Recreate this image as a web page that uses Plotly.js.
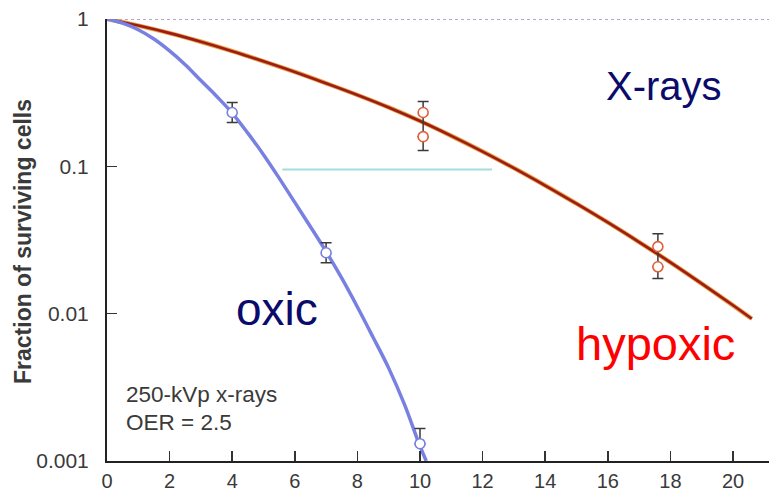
<!DOCTYPE html>
<html><head><meta charset="utf-8">
<script src="https://cdn.plot.ly/plotly-3.0.1.min.js"></script>
<style>html,body{margin:0;padding:0;background:#fff}</style>
</head><body><div id="chart" style="width:769px;height:494px"></div>
<script>
// Oxic survival curve
const oxicCurveX = [0, 0.5, 1, 1.5, 2, 2.5, 3, 3.5, 4, 4.5, 5, 5.5, 6, 6.5, 7, 7.5, 8, 8.5, 9, 9.5, 10, 10.2];
const oxicCurveY = [1, 0.937, 0.845, 0.731, 0.607, 0.489, 0.382, 0.299, 0.230, 0.168, 0.120, 0.0832, 0.0569, 0.0389, 0.0264, 0.0174, 0.0111, 0.00692, 0.00427, 0.00243, 0.00126, 0.00100];
// Hypoxic survival curve
const hypoxicCurveX = [0, 1, 2, 3, 4, 5, 6, 7, 8, 9, 10, 11, 12, 13, 14, 15, 16, 17, 18, 19, 20, 20.6];
const hypoxicCurveY = [1, 0.902, 0.802, 0.701, 0.605, 0.516, 0.437, 0.366, 0.305, 0.251, 0.203, 0.161, 0.126, 0.0973, 0.0741, 0.0558, 0.0416, 0.0306, 0.0223, 0.0160, 0.0114, 0.00923];
// Oxic data points with error bars
const oxicX = [4, 7, 10];
const oxicY = [0.232, 0.0259, 0.00131];
const oxicErrPlus = [0.039, 0.0044, 0.00035];
const oxicErrMinus = [0.034, 0.0037, 0];
// Hypoxic data points with error bars
const hypoxicX = [10.1, 10.1, 17.6, 17.6];
const hypoxicY = [0.232, 0.159, 0.0285, 0.0208];
const hypoxicErrPlus = [0.043, 0, 0.0064, 0];
const hypoxicErrMinus = [0.104, 0, 0.0112, 0];
// OER reference line
const oerLineX = [5.6, 12.3];
const oerLineY = [0.095, 0.095];
// Top reference line at survival = 1
const topLineX = [0, 21.15];
const topLineY = [1, 1];
// Ticks
const xTickVals = [0, 2, 4, 6, 8, 10, 12, 14, 16, 18, 20];
const xTickText = ['0', '2', '4', '6', '8', '10', '12', '14', '16', '18', '20'];
const yTickVals = [0.001, 0.01, 0.1, 1];
const yTickText = ['0.001', '0.01', '0.1', '1'];

const FONT = 'Liberation Sans, Arial, Helvetica, sans-serif';
const L = 107, W = 662, B = 461, H = 442;
const px = x => (x - L) / W;
const py = y => (B - y) / H;

const traces = [
  {x: topLineX, y: topLineY, mode: 'lines', line: {color: '#b3a6c6', width: 2, dash: 'dot'}, cliponaxis: false, hoverinfo: 'skip'},
  {x: oerLineX, y: oerLineY, mode: 'lines', line: {color: '#a6dcdf', width: 2}, hoverinfo: 'skip'},
  {x: hypoxicCurveX, y: hypoxicCurveY, mode: 'lines', line: {color: '#e4a040', width: 4.5, shape: 'spline'}, cliponaxis: false, hoverinfo: 'skip'},
  {x: hypoxicCurveX, y: hypoxicCurveY, mode: 'lines', line: {color: '#9e1c18', width: 2.6, shape: 'spline'}, cliponaxis: false},
  {x: oxicCurveX, y: oxicCurveY, mode: 'lines', line: {color: '#7880e2', width: 3.5, shape: 'spline'}, cliponaxis: false},
  {x: oxicX, y: oxicY, mode: 'markers', cliponaxis: false,
   marker: {symbol: 'circle', size: 10, color: '#ffffff', line: {color: '#7880e2', width: 1.6}},
   error_y: {type: 'data', symmetric: false, array: oxicErrPlus, arrayminus: oxicErrMinus, color: '#3a3a3a', thickness: 1.5, width: 5.5}},
  {x: hypoxicX, y: hypoxicY, mode: 'markers', cliponaxis: false,
   marker: {symbol: 'circle', size: 10, color: '#ffffff', line: {color: '#e0603a', width: 1.6}},
   error_y: {type: 'data', symmetric: false, array: hypoxicErrPlus, arrayminus: hypoxicErrMinus, color: '#3a3a3a', thickness: 1.5, width: 5.5}}
];

const layout = {
  width: 769, height: 494,
  margin: {l: L, r: 0, t: 19, b: 33, pad: 0},
  paper_bgcolor: '#ffffff', plot_bgcolor: '#ffffff',
  showlegend: false,
  font: {family: FONT, color: '#3a3a3a'},
  xaxis: {range: [0, 21.15], tickmode: 'array', tickvals: xTickVals, ticktext: xTickText,
    ticks: 'inside', ticklen: 10, tickwidth: 1.5, tickcolor: '#333',
    showline: true, linecolor: '#222', linewidth: 2, showgrid: false, zeroline: false,
    tickfont: {family: FONT, size: 20, color: '#3a3a3a'}, ticklabelstandoff: 1, fixedrange: true},
  yaxis: {type: 'log', range: [-3, 0], tickmode: 'array', tickvals: yTickVals, ticktext: yTickText,
    ticks: 'inside', ticklen: 10, tickwidth: 1.5, tickcolor: '#333',
    showline: true, linecolor: '#222', linewidth: 2, showgrid: false, zeroline: false,
    tickfont: {family: FONT, size: 21, color: '#3a3a3a'}, ticklabelstandoff: 12, fixedrange: true},
  annotations: [
    {xref: 'paper', yref: 'paper', x: px(23), y: py(242), text: '<b>Fraction of surviving cells</b>', textangle: -90,
     showarrow: false, xanchor: 'center', yanchor: 'middle', font: {family: FONT, size: 23, color: '#3a3a3a'}},
    {xref: 'paper', yref: 'paper', x: px(664), y: py(86), text: 'X-rays', showarrow: false,
     xanchor: 'center', yanchor: 'middle', font: {family: FONT, size: 40, color: '#0b0b6c'}},
    {xref: 'paper', yref: 'paper', x: px(277), y: py(309), text: 'oxic', showarrow: false,
     xanchor: 'center', yanchor: 'middle', font: {family: FONT, size: 46, color: '#0b0b6c'}},
    {xref: 'paper', yref: 'paper', x: px(655), y: py(343), text: 'hypoxic', showarrow: false,
     xanchor: 'center', yanchor: 'middle', font: {family: FONT, size: 47, color: '#ff0000'}},
    {xref: 'paper', yref: 'paper', x: px(124), y: py(394), text: '250-kVp x-rays', showarrow: false,
     xanchor: 'left', yanchor: 'middle', font: {family: FONT, size: 22.5, color: '#3a3a3a'}},
    {xref: 'paper', yref: 'paper', x: px(124), y: py(422), text: 'OER = 2.5', showarrow: false,
     xanchor: 'left', yanchor: 'middle', font: {family: FONT, size: 22.5, color: '#3a3a3a'}}
  ]
};

Plotly.newPlot('chart', traces, layout, {displayModeBar: false, staticPlot: true});
</script>
</body></html>
